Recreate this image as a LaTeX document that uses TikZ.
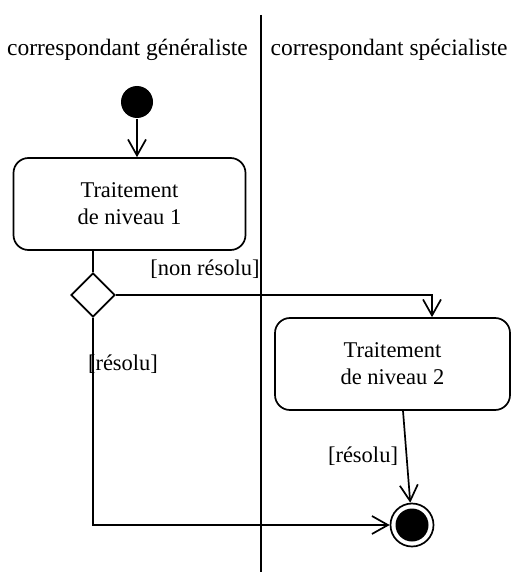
\documentclass[tikz,border=0pt]{standalone}
\usepackage{fontspec}
\setmainfont{Liberation Serif}
\usetikzlibrary{arrows.meta,shapes.geometric}
\begin{document}
\begin{tikzpicture}[x=1pt,y=-1pt, line width=1.7pt,
 lbl/.style={font=\fontsize{22.5}{26}\selectfont, inner sep=0},
 hdr/.style={font=\fontsize{23.5}{27}\selectfont, inner sep=0},
 act/.style={draw, rounded corners=15pt, minimum width=232pt, minimum height=92pt, align=center, font=\fontsize{22.5}{27}\selectfont},
 arr/.style={-{Straight Barb[length=16pt,width=18pt,line width=1.7pt]}}]
\useasboundingbox (0,0) rectangle (512,572);
\coordinate (lt) at (261,15);
\coordinate (lb) at (261,572);
\draw (lt) -- (lb);
\node[hdr] (h1) at (127.5,50) {correspondant généraliste};
\node[hdr] (h2) at (389,50) {correspondant spécialiste};
\node[circle, fill, minimum size=32pt, inner sep=0] (start) at (137,102) {};
\node[act] (t1) at (129.5,204) {Traitement\\de niveau 1};
\node[diamond, draw, minimum width=44pt, minimum height=44pt, inner sep=0] (d) at (93,295) {};
\node[act, minimum width=235pt, minimum height=92pt] (t2) at (392.5,364) {Traitement\\de niveau 2};
\node[circle, draw, minimum size=43pt, inner sep=0] (f) at (412,525) {};
\node[circle, fill, minimum size=33pt, inner sep=0] (fi) at (f) {};
\draw[arr] (start) -- (start |- t1.north);
\draw (t1.south -| d) -- (d.north);
\draw[arr] (d.east) -| ([xshift=39.5pt]t2.north);
\draw[arr] ([xshift=10.5pt]t2.south) -- (f);
\draw[arr] (d.south) |- (f.west);
\node[lbl] (l1) at (205,269) {[non résolu]};
\node[lbl] (l2) at (123,364) {[résolu]};
\node[lbl] (l3) at (363,456) {[résolu]};
\end{tikzpicture}
\end{document}
